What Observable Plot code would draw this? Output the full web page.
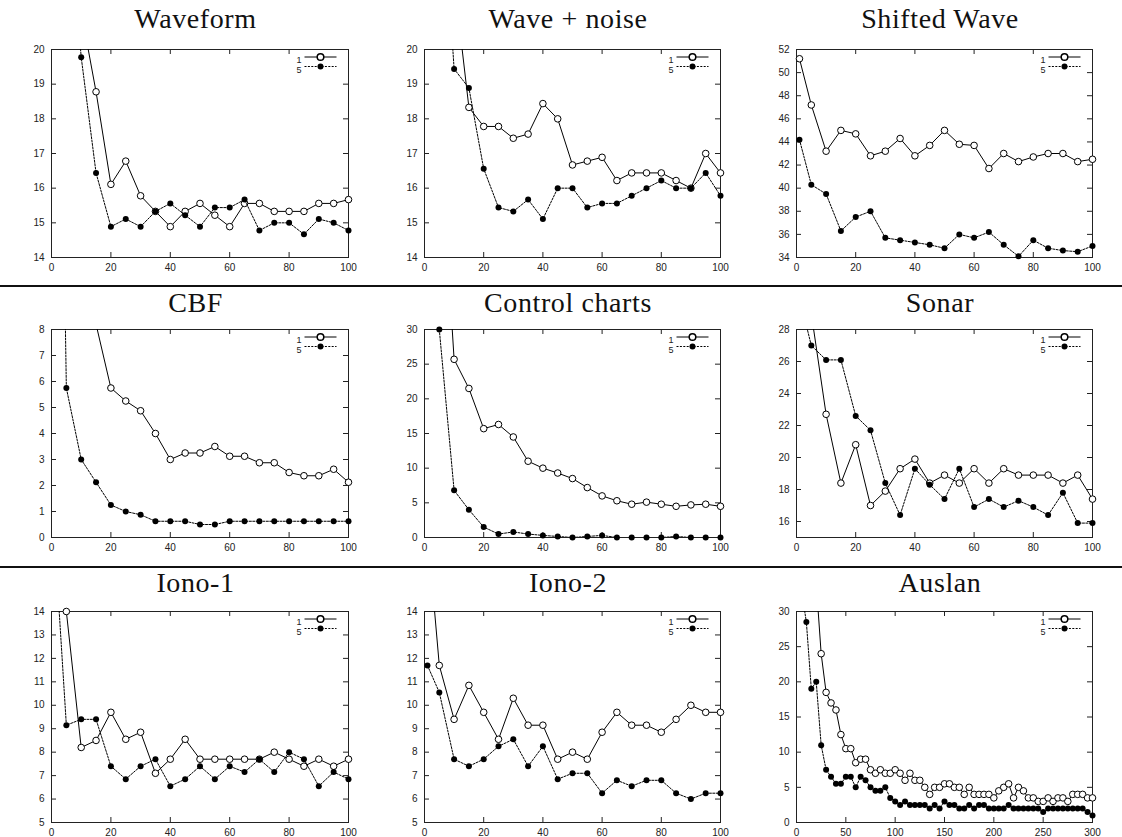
<!DOCTYPE html>
<html><head><meta charset="utf-8">
<script src="https://cdn.jsdelivr.net/npm/d3@7"></script>
<script src="https://cdn.jsdelivr.net/npm/@observablehq/plot@0.6"></script>
<style>
html,body{margin:0;padding:0;background:#fff;}
#root{position:relative;width:1122px;height:837px;overflow:hidden;background:#fff;}
.title{position:absolute;font-family:"Liberation Serif","Times New Roman",serif;font-size:28px;letter-spacing:0.6px;color:#111;white-space:nowrap;transform:translateX(-50%);line-height:1;}
.sep{position:absolute;left:0;width:1122px;height:2px;background:#111;}
.panel{position:absolute;}
</style></head><body><div id="root"></div>
<script>
// ---------- data ----------
const x5to100 = [5,10,15,20,25,30,35,40,45,50,55,60,65,70,75,80,85,90,95,100];
const x1to100 = [1,5,10,15,20,25,30,35,40,45,50,55,60,65,70,75,80,85,90,95,100];
const x5to300 = [5,10,15,20,25,30,35,40,45,50,55,60,65,70,75,80,85,90,95,100,
  105,110,115,120,125,130,135,140,145,150,155,160,165,170,175,180,185,190,195,200,
  205,210,215,220,225,230,235,240,245,250,255,260,265,270,275,280,285,290,295,300];

const waveform1 = [null,21.1,18.78,16.11,16.78,15.78,15.33,14.89,15.33,15.56,15.22,14.89,15.56,15.56,15.33,15.33,15.33,15.56,15.56,15.67];
const waveform5 = [25,19.78,16.44,14.89,15.11,14.89,15.33,15.56,15.22,14.89,15.44,15.44,15.67,14.78,15.0,15.0,14.67,15.11,15.0,14.78];

const noise1 = [null,22.0,18.33,17.78,17.78,17.44,17.56,18.44,18.0,16.67,16.78,16.89,16.22,16.44,16.44,16.44,16.22,16.0,17.0,16.44];
const noise5 = [26,19.44,18.89,16.56,15.44,15.33,15.67,15.11,16.0,16.0,15.44,15.56,15.56,15.78,16.0,16.22,16.0,16.0,16.44,15.78];

const shifted1 = [51.2,47.2,43.2,45.0,44.7,42.8,43.2,44.3,42.8,43.7,45.0,43.8,43.7,41.7,43.0,42.3,42.7,43.0,43.0,42.3,42.5];
const shifted5 = [44.2,40.3,39.5,36.3,37.5,38.0,35.7,35.5,35.3,35.1,34.8,36.0,35.7,36.2,35.1,34.1,35.5,34.8,34.6,34.5,35.0];

const cbf1 = [null,null,null,8.2,5.75,5.25,4.875,4.0,3.0,3.25,3.25,3.5,3.125,3.125,2.875,2.875,2.5,2.375,2.375,2.625,2.125];
const cbf5 = [35,5.75,3.0,2.125,1.25,1.0,0.875,0.625,0.625,0.625,0.5,0.5,0.625,0.625,0.625,0.625,0.625,0.625,0.625,0.625,0.625];

const control1 = [60,25.7,21.5,15.7,16.3,14.5,11.0,10.0,9.3,8.5,7.2,6.0,5.3,4.8,5.1,4.8,4.5,4.7,4.8,4.5];
const control5 = [30.0,6.8,4.0,1.5,0.5,0.8,0.5,0.3,0.15,0.0,0.15,0.3,0,0,0,0,0.15,0,0,0];

const sonar1 = [null,29.0,22.7,18.4,20.8,17.0,17.9,19.3,19.9,18.4,18.9,18.4,19.3,18.4,19.3,18.9,18.9,18.9,18.4,18.9,17.4];
const sonar5 = [30.0,27.0,26.1,26.1,22.6,21.7,18.4,16.4,19.3,18.3,17.4,19.3,16.9,17.4,16.9,17.3,16.9,16.4,17.8,15.9,15.9];

const iono1a = [null,14.0,8.2,8.5,9.7,8.55,8.85,7.1,7.7,8.55,7.7,7.7,7.7,7.7,7.7,8.0,7.7,7.4,7.7,7.4,7.7];
const iono1b = [17.2,9.15,9.4,9.4,7.4,6.85,7.4,7.7,6.55,6.85,7.4,6.85,7.4,7.15,7.7,7.15,8.0,7.7,6.55,7.15,6.85];

const iono2a = [17.5,11.7,9.4,10.85,9.7,8.55,10.3,9.15,9.15,7.7,8.0,7.7,8.85,9.7,9.15,9.15,8.85,9.4,10.0,9.7,9.7];
const iono2b = [11.7,10.55,7.7,7.4,7.7,8.25,8.55,7.4,8.25,6.85,7.1,7.1,6.25,6.8,6.55,6.8,6.8,6.25,6.0,6.25,6.25];

const auslan1 = [null,null,null,34,24.0,18.5,17.0,16.0,12.5,10.5,10.5,8.5,9.0,9.0,7.5,7.0,7.5,7.0,7.0,7.5,
  7.0,6.0,7.0,6.0,6.0,5.0,4.0,5.0,5.0,5.5,5.5,5.0,5.0,4.0,5.0,4.0,4.0,4.0,4.0,3.5,
  4.5,5.0,5.5,3.5,5.0,4.5,3.5,3.5,3.0,3.0,3.5,3.0,3.5,3.5,3.0,4.0,4.0,4.0,3.5,3.5];
const auslan5 = [33,28.5,19.0,20.0,11.0,7.5,6.5,5.5,5.5,6.5,6.5,5.0,6.5,6.0,5.0,4.5,4.5,5.0,3.5,3.0,
  2.5,3.0,2.5,2.5,2.5,2.5,2.0,2.5,2.0,3.0,2.5,2.5,2.0,2.0,2.5,2.0,2.5,2.5,2.0,2.0,
  2.0,2.0,2.5,2.0,2.0,2.0,2.0,2.0,2.0,1.5,2.0,2.0,2.0,2.0,2.0,2.0,2.0,2.0,1.5,1.0];

const ticks0to100 = [0,20,40,60,80,100];
const ticks0to300 = [0,50,100,150,200,250,300];
const yTicksWave = [14,15,16,17,18,19,20];
const yTicksShift = [34,36,38,40,42,44,46,48,50,52];
const yTicksCBF = [0,1,2,3,4,5,6,7,8];
const yTicks30 = [0,5,10,15,20,25,30];
const yTicksSonar = [16,18,20,22,24,26,28];
const yTicksIono = [5,6,7,8,9,10,11,12,13,14];
const seriesNames = ["1","5"];

const panels = [
  {title:"Waveform", row:0, col:0, x:x5to100, s1:waveform1, s5:waveform5, xd:[0,100], yd:[14,20], xt:ticks0to100, yt:yTicksWave},
  {title:"Wave + noise", row:0, col:1, x:x5to100, s1:noise1, s5:noise5, xd:[0,100], yd:[14,20], xt:ticks0to100, yt:yTicksWave},
  {title:"Shifted Wave", row:0, col:2, x:x1to100, s1:shifted1, s5:shifted5, xd:[0,100], yd:[34,52], xt:ticks0to100, yt:yTicksShift},
  {title:"CBF", row:1, col:0, x:x1to100, s1:cbf1, s5:cbf5, xd:[0,100], yd:[0,8], xt:ticks0to100, yt:yTicksCBF},
  {title:"Control charts", row:1, col:1, x:x5to100, s1:control1, s5:control5, xd:[0,100], yd:[0,30], xt:ticks0to100, yt:yTicks30},
  {title:"Sonar", row:1, col:2, x:x1to100, s1:sonar1, s5:sonar5, xd:[0,100], yd:[15,28], xt:ticks0to100, yt:yTicksSonar},
  {title:"Iono-1", row:2, col:0, x:x1to100, s1:iono1a, s5:iono1b, xd:[0,100], yd:[5,14], xt:ticks0to100, yt:yTicksIono},
  {title:"Iono-2", row:2, col:1, x:x1to100, s1:iono2a, s5:iono2b, xd:[0,100], yd:[5,14], xt:ticks0to100, yt:yTicksIono},
  {title:"Auslan", row:2, col:2, x:x5to300, s1:auslan1, s5:auslan5, xd:[0,300], yd:[0,30], xt:ticks0to300, yt:yTicks30}
];

// ---------- layout ----------
const colLeft = [0, 374, 748];
const colML = [51, 50, 48];
const colMR = [26, 28, 30];
const rowTop = [40, 320, 602];
const rowH = [237, 237, 235];
const rowMB = [20, 20, 15];
const MT = 9;
const titleBase = [28, 312, 592];
const sepY = [285, 566];

const root = document.getElementById("root");
const FONT = "'Liberation Sans', Arial, Helvetica, sans-serif";
const fmt = d => String(d);

function segment(half) {
  return {draw(ctx) { ctx.moveTo(-half, 0); ctx.lineTo(half, 0); }};
}

for (const p of panels) {
  const W = 374, H = rowH[p.row];
  const ml = colML[p.col], mr = colMR[p.col], mb = rowMB[p.row];
  const fw = W - ml - mr, fh = H - MT - mb;
  const d1 = p.x.map((x, i) => ({x, y: p.s1[i]})).filter(d => d.y != null);
  const d5 = p.x.map((x, i) => ({x, y: p.s5[i]})).filter(d => d.y != null);
  const inside = d => d.y <= p.yd[1] + 1e-9 && d.y >= p.yd[0] - 1e-9;
  const plot = Plot.plot({
    width: W, height: H,
    marginLeft: ml, marginRight: mr, marginTop: MT, marginBottom: mb,
    style: {fontFamily: FONT, fontSize: "10px", color: "#222", background: "transparent", overflow: "visible"},
    x: {domain: p.xd, ticks: p.xt, tickSize: 0, tickPadding: 6, tickFormat: fmt, label: null},
    y: {domain: p.yd, ticks: p.yt, tickSize: 0, tickPadding: 7, tickFormat: fmt, label: null},
    marks: [
      Plot.tickX(p.xt, {x: d => d, insetTop: fh - 5, stroke: "#222"}),
      Plot.tickX(p.xt, {x: d => d, insetBottom: fh - 5, stroke: "#222"}),
      Plot.tickY(p.yt, {y: d => d, insetRight: fw - 5, stroke: "#222"}),
      Plot.tickY(p.yt, {y: d => d, insetLeft: fw - 5, stroke: "#222"}),
      Plot.frame({stroke: "#222", strokeWidth: 1}),
      Plot.line(d1, {x: "x", y: "y", clip: true, stroke: "#000", strokeWidth: 1}),
      Plot.dot(d1.filter(inside), {x: "x", y: "y", r: 3.3, stroke: "#000", strokeWidth: 1, fill: "#fff"}),
      Plot.line(d5, {x: "x", y: "y", clip: true, stroke: "#000", strokeWidth: 1, strokeDasharray: "2,1.4"}),
      Plot.dot(d5.filter(inside), {x: "x", y: "y", r: 3, fill: "#000", stroke: "none"}),
      // legend (top-right inside the frame)
      Plot.text([seriesNames[0]], {frameAnchor: "top-right", text: d => d, dx: -47, dy: 7.5, textAnchor: "end", fill: "#222", fontSize: 9}),
      Plot.text([seriesNames[1]], {frameAnchor: "top-right", text: d => d, dx: -47, dy: 17, textAnchor: "end", fill: "#222", fontSize: 9}),
      Plot.dot([seriesNames[0]], {frameAnchor: "top-right", dx: -28, dy: 7.5, symbol: segment(16), stroke: "#000", strokeWidth: 1, fill: "none"}),
      Plot.dot([seriesNames[0]], {frameAnchor: "top-right", dx: -28, dy: 7.5, r: 3.3, stroke: "#000", fill: "#fff"}),
      Plot.dot([seriesNames[1]], {frameAnchor: "top-right", dx: -28, dy: 17, symbol: segment(16), stroke: "#000", strokeWidth: 1, strokeDasharray: "2,1.4", fill: "none"}),
      Plot.dot([seriesNames[1]], {frameAnchor: "top-right", dx: -28, dy: 17, r: 3, fill: "#000", stroke: "none"})
    ]
  });
  const wrap = document.createElement("div");
  wrap.className = "panel";
  wrap.style.left = colLeft[p.col] + "px";
  wrap.style.top = rowTop[p.row] + "px";
  wrap.appendChild(plot);
  root.appendChild(wrap);

  const t = document.createElement("div");
  t.className = "title";
  t.textContent = p.title;
  t.style.left = (colLeft[p.col] + ml + fw / 2 - 4) + "px";
  t.style.top = (titleBase[p.row] - 23.5) + "px";
  root.appendChild(t);
}
for (const y of sepY) {
  const s = document.createElement("div");
  s.className = "sep";
  s.style.top = y + "px";
  root.appendChild(s);
}
</script>
</body></html>
